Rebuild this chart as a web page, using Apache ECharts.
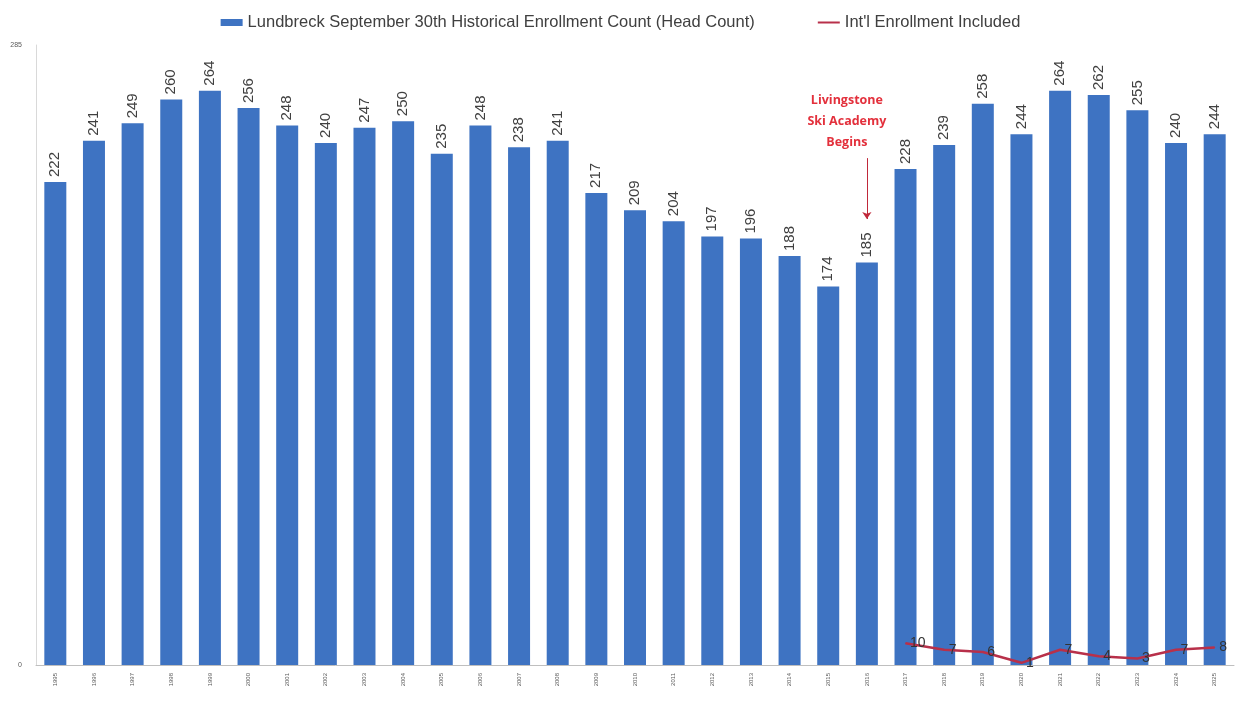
<!DOCTYPE html>
<html>
<head>
<meta charset="utf-8">
<script src="https://cdn.jsdelivr.net/npm/echarts@6/dist/echarts.min.js"></script>
<style>
  html, body { margin: 0; padding: 0; background: #fff; }
  #mainChart { width: 1241px; height: 706px; }
</style>
</head>
<body>
<div id="mainChart"></div>
<script>
  // years on the x axis
  var years = [];
  for (var y = 1995; y <= 2025; y++) years.push(String(y));

  // head count per year (Sept 30th)
  var headCount = [222, 241, 249, 260, 264, 256, 248, 240, 247, 250, 235, 248, 238, 241,
    217, 209, 204, 197, 196, 188, 174, 185, 228, 239, 258, 244, 264, 262, 255, 240, 244];

  // international students included (from 2017)
  var intlCount = [null, null, null, null, null, null, null, null, null, null, null, null,
    null, null, null, null, null, null, null, null, null, null, 10, 7, 6, 1, 7, 4, 3, 7, 8];

  var yTicks = [0, 285];

  var font = "'Liberation Sans Narrow', 'Liberation Sans', Arial, sans-serif";

  var chart = echarts.init(document.getElementById('mainChart'));
  var options = {
    animation: false,
    textStyle: { fontFamily: font },
    legend: {
      top: 9,
      left: 'center',
      itemGap: 62,
      itemWidth: 22,
      itemHeight: 7,
      textStyle: { color: '#404040', fontSize: 16.5, fontFamily: font },
      data: [
        { name: 'Lundbreck September 30th Historical Enrollment Count (Head Count)', icon: 'rect' },
        { name: "Int'l Enrollment Included", itemStyle: { opacity: 0 } }
      ]
    },
    grid: { left: 36, right: 7, top: 45, bottom: 41 },
    xAxis: {
      type: 'category',
      data: years,
      axisTick: { show: false },
      axisLine: { lineStyle: { color: '#bfbfbf', width: 1 } },
      axisLabel: { rotate: 90, fontSize: 6, color: '#595959', margin: 8 }
    },
    yAxis: {
      type: 'value',
      min: yTicks[0],
      max: yTicks[1],
      interval: yTicks[1],
      splitLine: { show: false },
      axisLine: { show: true, lineStyle: { color: '#d9d9d9' } },
      axisLabel: { fontSize: 7, color: '#595959', margin: 14 }
    },
    series: [
      {
        name: 'Lundbreck September 30th Historical Enrollment Count (Head Count)',
        type: 'bar',
        data: headCount,
        barWidth: 22,
        itemStyle: { color: '#3e73c2' },
        label: {
          show: true,
          position: 'top',
          rotate: 90,
          align: 'left',
          verticalAlign: 'middle',
          distance: 5,
          fontSize: 15,
          color: '#404040'
        },
        markPoint: {
          symbol: 'circle',
          symbolSize: 0,
          silent: true,
          data: [{
            coord: ['2016', 250],
            label: {
              show: true,
              formatter: 'Livingstone\nSki Academy\nBegins',
              color: '#e3303c',
              fontWeight: 'bold',
              fontSize: 12.5,
              lineHeight: 21,
              align: 'center',
              verticalAlign: 'middle',
              offset: [-20, 0],
              fontFamily: "'Open Sans', sans-serif"
            }
          }]
        },
        markLine: {
          silent: true,
          symbol: ['none', 'arrow'],
          symbolSize: 7,
          lineStyle: { color: '#c0283a', width: 1, type: 'solid' },
          label: { show: false },
          data: [[{ coord: ['2016', 233] }, { coord: ['2016', 205] }]]
        }
      },
      {
        name: "Int'l Enrollment Included",
        type: 'line',
        data: intlCount,
        symbol: 'circle',
        symbolSize: 1,
        showSymbol: true,
        lineStyle: { color: '#b8304a', width: 2.5 },
        itemStyle: { color: '#b8304a' },
        label: {
          show: true,
          position: 'right',
          distance: 4,
          fontSize: 14,
          color: '#333333'
        },
        labelLayout: { hideOverlap: false }
      }
    ]
  };
  chart.setOption(options);
</script>
</body>
</html>
